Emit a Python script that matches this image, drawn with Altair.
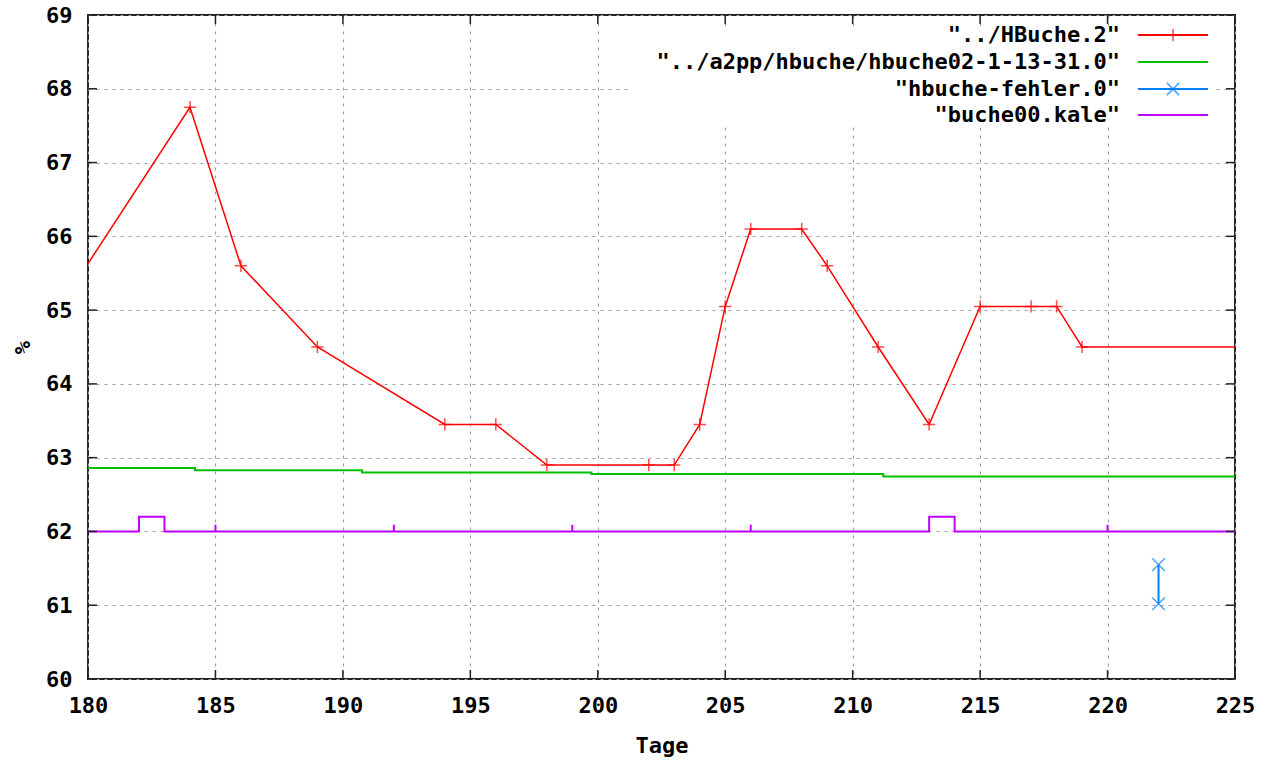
import altair as alt
import pandas as pd

# ---- data ----
red_day = [179, 184, 186, 189, 194, 196, 198, 202, 203, 204, 205, 206, 208, 209, 211, 213, 215, 217, 218, 219, 227]
red_val = [65.1, 67.75, 65.6, 64.5, 63.45, 63.45, 62.9, 62.9, 62.9, 63.45, 65.05, 66.1, 66.1, 65.6, 64.5, 63.45,
           65.05, 65.05, 65.05, 64.5, 64.5]

green_day = [180, 184.2, 190.75, 199.75, 211.2, 225]
green_val = [62.86, 62.83, 62.80, 62.78, 62.745, 62.745]

blue_day = [222, 222]
blue_val = [61.55, 61.02]

mag_day = [180, 182, 182, 183, 183, 185, 185, 185, 192, 192, 192, 199, 199, 199, 206, 206, 206,
           213, 213, 214, 214, 220, 220, 220, 225]
mag_val = [62, 62, 62.2, 62.2, 62, 62, 62.09, 62, 62, 62.09, 62, 62, 62.09, 62, 62, 62.09, 62,
           62, 62.2, 62.2, 62, 62, 62.09, 62, 62]

x_ticks = [180, 185, 190, 195, 200, 205, 210, 215, 220, 225]
y_ticks = [60, 61, 62, 63, 64, 65, 66, 67, 68, 69]

series_names = ['"../HBuche.2"', '"../a2pp/hbuche/hbuche02-1-13-31.0"', '"hbuche-fehler.0"', '"buche00.kale"']
series_colors = ["#ff0000", "#00c000", "#0080ff", "#c000ff"]

# ---- layout ----
W, H = 1147, 664
FONT = "DejaVu Sans Mono"
FS = 22
PLUS = "M-1,0L1,0M0,-1L0,1"
CROSS = "M-1,-1L1,1M-1,1L1,-1"

xs = alt.Scale(domain=[180, 225], nice=False, zero=False)
ys = alt.Scale(domain=[60, 69], nice=False, zero=False)

red_df = pd.DataFrame({"day": red_day, "val": red_val})
green_df = pd.DataFrame({"day": green_day, "val": green_val})
blue_df = pd.DataFrame({"day": blue_day, "val": blue_val})
mag_df = pd.DataFrame({"day": mag_day, "val": mag_val, "i": list(range(len(mag_day)))})
xt_df = pd.DataFrame({"day": x_ticks})
yt_df = pd.DataFrame({"val": y_ticks})
one = pd.DataFrame({"a": [0]})

x_axis = alt.Axis(values=x_ticks, title="Tage", grid=True, gridDash=[3, 5], gridColor="#a0a0a0",
                  gridWidth=1.2, domain=False, ticks=False, labelFont=FONT, labelFontSize=FS,
                  labelFontWeight="bold", labelColor="black", labelPadding=16, labelFlush=False,
                  format="d", titleFont=FONT, titleFontSize=FS, titleFontWeight="bold",
                  titleColor="black", titleY=56, titleBaseline="top")
y_axis = alt.Axis(values=y_ticks, title="%", grid=True, gridDash=[3, 5], gridColor="#a0a0a0",
                  gridWidth=1.2, domain=False, ticks=False, labelFont=FONT, labelFontSize=FS,
                  labelFontWeight="bold", labelColor="black", labelPadding=16, labelFlush=False,
                  format="d", titleFont=FONT, titleFontSize=FS, titleFontWeight="bold",
                  titleColor="black", titleX=-66, titleY=H / 2, titleAngle=270,
                  titleAlign="center", titleBaseline="middle")

X = alt.X("day:Q", scale=xs, axis=x_axis)
Y = alt.Y("val:Q", scale=ys, axis=y_axis)

legend_box = alt.Chart(one).mark_rect(fill="white").encode(
    x=alt.value(544), x2=alt.value(1128), y=alt.value(11), y2=alt.value(112))

red = alt.Chart(red_df).mark_line(color=series_colors[0], strokeWidth=1.5, clip=True).encode(x=X, y=Y)
red_pts = alt.Chart(red_df).mark_point(shape=PLUS, size=150, color=series_colors[0], strokeWidth=1.5,
                                       filled=False, clip=True).encode(x=X, y=Y)

green = alt.Chart(green_df).mark_line(color=series_colors[1], strokeWidth=2, interpolate="step-after",
                                      clip=True).encode(x=X, y=Y)

mag = alt.Chart(mag_df).mark_line(color=series_colors[3], strokeWidth=2, clip=True).encode(
    x=X, y=Y, order=alt.Order("i:Q"))

blue = alt.Chart(blue_df).mark_line(color=series_colors[2], strokeWidth=2, clip=True).encode(x=X, y=Y)
blue_pts = alt.Chart(blue_df).mark_point(shape=CROSS, size=160, color=series_colors[2], strokeWidth=1.5,
                                         filled=False, clip=True).encode(x=X, y=Y)

TK = 9
tick_color = "#222222"
xt_bot = alt.Chart(xt_df).mark_rule(color=tick_color, strokeWidth=1.5).encode(
    x=X, y=alt.value(H), y2=alt.value(H - TK))
xt_top = alt.Chart(xt_df).mark_rule(color=tick_color, strokeWidth=1.5).encode(
    x=X, y=alt.value(0), y2=alt.value(TK))
yt_l = alt.Chart(yt_df).mark_rule(color=tick_color, strokeWidth=1.5).encode(
    y=Y, x=alt.value(0), x2=alt.value(TK))
yt_r = alt.Chart(yt_df).mark_rule(color=tick_color, strokeWidth=1.5).encode(
    y=Y, x=alt.value(W), x2=alt.value(W - TK))

# manual gnuplot-style key
row_y = [20, 47, 74, 100]
key_layers = []
shapes = [PLUS, None, CROSS, None]
for name, col, ry, shp in zip(series_names, series_colors, row_y, shapes):
    key_layers.append(alt.Chart(one).mark_text(text=name, font=FONT, fontSize=FS, fontWeight="bold",
                                               align="right", baseline="middle", color="black").encode(
        x=alt.value(1032), y=alt.value(ry)))
    key_layers.append(alt.Chart(one).mark_rule(color=col, strokeWidth=2).encode(
        x=alt.value(1050), x2=alt.value(1120), y=alt.value(ry)))
    if shp:
        key_layers.append(alt.Chart(one).mark_point(shape=shp, size=150, color=col, strokeWidth=1.5,
                                                    filled=False).encode(
            x=alt.value(1085), y=alt.value(ry)))

chart = alt.layer(
    red, legend_box, green, mag, blue, blue_pts, red_pts,
    xt_bot, xt_top, yt_l, yt_r, *key_layers
).properties(
    width=W, height=H,
    autosize=alt.AutoSizeParams(type="none"),
    padding={"left": 88, "top": 15, "right": 31, "bottom": 81},
    background="white",
).configure_view(stroke="#222222", strokeWidth=2)

chart.save("out.html", embed_options={"renderer": "svg", "actions": False})
